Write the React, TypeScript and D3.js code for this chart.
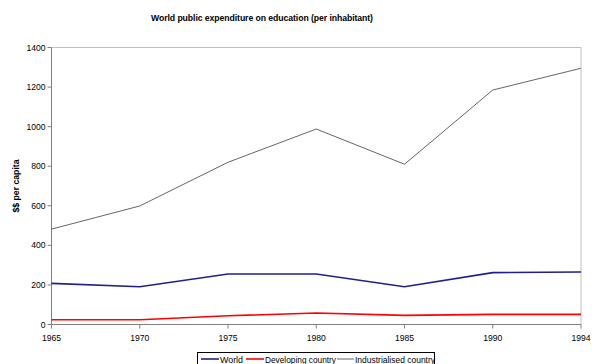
import React from "react";
import * as d3 from "d3";

const years = ["1965", "1970", "1975", "1980", "1985", "1990", "1994"];
const world = [208, 191, 255, 255, 191, 262, 265];
const developing = [24, 24, 44, 58, 46, 51, 51];
const industrialised = [482, 599, 820, 988, 810, 1185, 1295];
const yTicks = [0, 200, 400, 600, 800, 1000, 1200, 1400];

const seriesList = [
  { name: "World", values: world, color: "#1f1f8f", width: 1.6 },
  { name: "Developing country", values: developing, color: "#ff0000", width: 1.6 },
  { name: "Industrialised country", values: industrialised, color: "#666666", width: 1 },
];

const W = 600;
const H = 364;
const margin = { top: 47.5, right: 19, bottom: 39.5, left: 51.5 };

// legend entries: line start, text start, text width
const legendPos = [
  [201, 220, 23],
  [246, 265, 71],
  [337, 355, 80],
];

export default function App() {
  const x = d3.scalePoint<string>().domain(years).range([margin.left, W - margin.right]);
  const y = d3.scaleLinear().domain([0, 1400]).range([H - margin.bottom, margin.top]);

  const line = (vals: number[]) =>
    d3.line<number>().x((_, i) => x(years[i]) as number).y((d) => y(d))(vals) || "";

  const font = "'Liberation Sans', Arial, sans-serif";
  const x0 = margin.left;
  const x1 = W - margin.right;
  const y0 = H - margin.bottom;
  const y1 = margin.top;

  return (
    <svg width={W} height={H} style={{ position: "absolute", left: 0, top: 0 }} fontFamily={font}>
      <rect width={W} height={H} fill="#fff" />
      <text x={262} y={21} textAnchor="middle" fontSize={8.7} fontWeight="bold" textLength={222}>
        World public expenditure on education (per inhabitant)
      </text>

      {/* plot frame */}
      <line x1={x0} x2={x1} y1={y1} y2={y1} stroke="#c0c0c0" />
      <line x1={x1} x2={x1} y1={y1} y2={y0} stroke="#c0c0c0" />

      {/* axes */}
      <line x1={x0} x2={x0} y1={y1} y2={y0} stroke="#808080" />
      <line x1={x0} x2={x1} y1={y0} y2={y0} stroke="#808080" />
      {yTicks.map((t) => (
        <g key={t}>
          <line x1={x0 - 4} x2={x0} y1={y(t)} y2={y(t)} stroke="#808080" />
          <text x={x0 - 6} y={y(t) + 3} textAnchor="end" fontSize={8.6}>
            {t}
          </text>
        </g>
      ))}
      {years.map((yr) => (
        <g key={yr}>
          <line x1={x(yr)} x2={x(yr)} y1={y0} y2={y0 + 4} stroke="#808080" />
          <text x={x(yr)} y={y0 + 16} textAnchor="middle" fontSize={8.6}>
            {yr}
          </text>
        </g>
      ))}
      <text
        transform={`translate(18.5,${(y0 + y1) / 2}) rotate(-90)`}
        textAnchor="middle"
        fontSize={8.7}
        fontWeight="bold"
      >
        $$ per capita
      </text>

      {seriesList.map((s) => (
        <path key={s.name} d={line(s.values)} fill="none" stroke={s.color} strokeWidth={s.width} />
      ))}

      {/* legend */}
      <rect x={197.5} y={352.5} width={237} height={20} fill="#fff" stroke="#000" />
      {seriesList.map((s, i) => {
        const [ls, ts, tw] = legendPos[i];
        return (
          <g key={s.name}>
            <line x1={ls} x2={ts - 1} y1={359} y2={359} stroke={s.color} strokeWidth={s.width} />
            <text x={ts} y={362.5} fontSize={8.8} textLength={tw} lengthAdjust="spacingAndGlyphs">
              {s.name}
            </text>
          </g>
        );
      })}
    </svg>
  );
}
